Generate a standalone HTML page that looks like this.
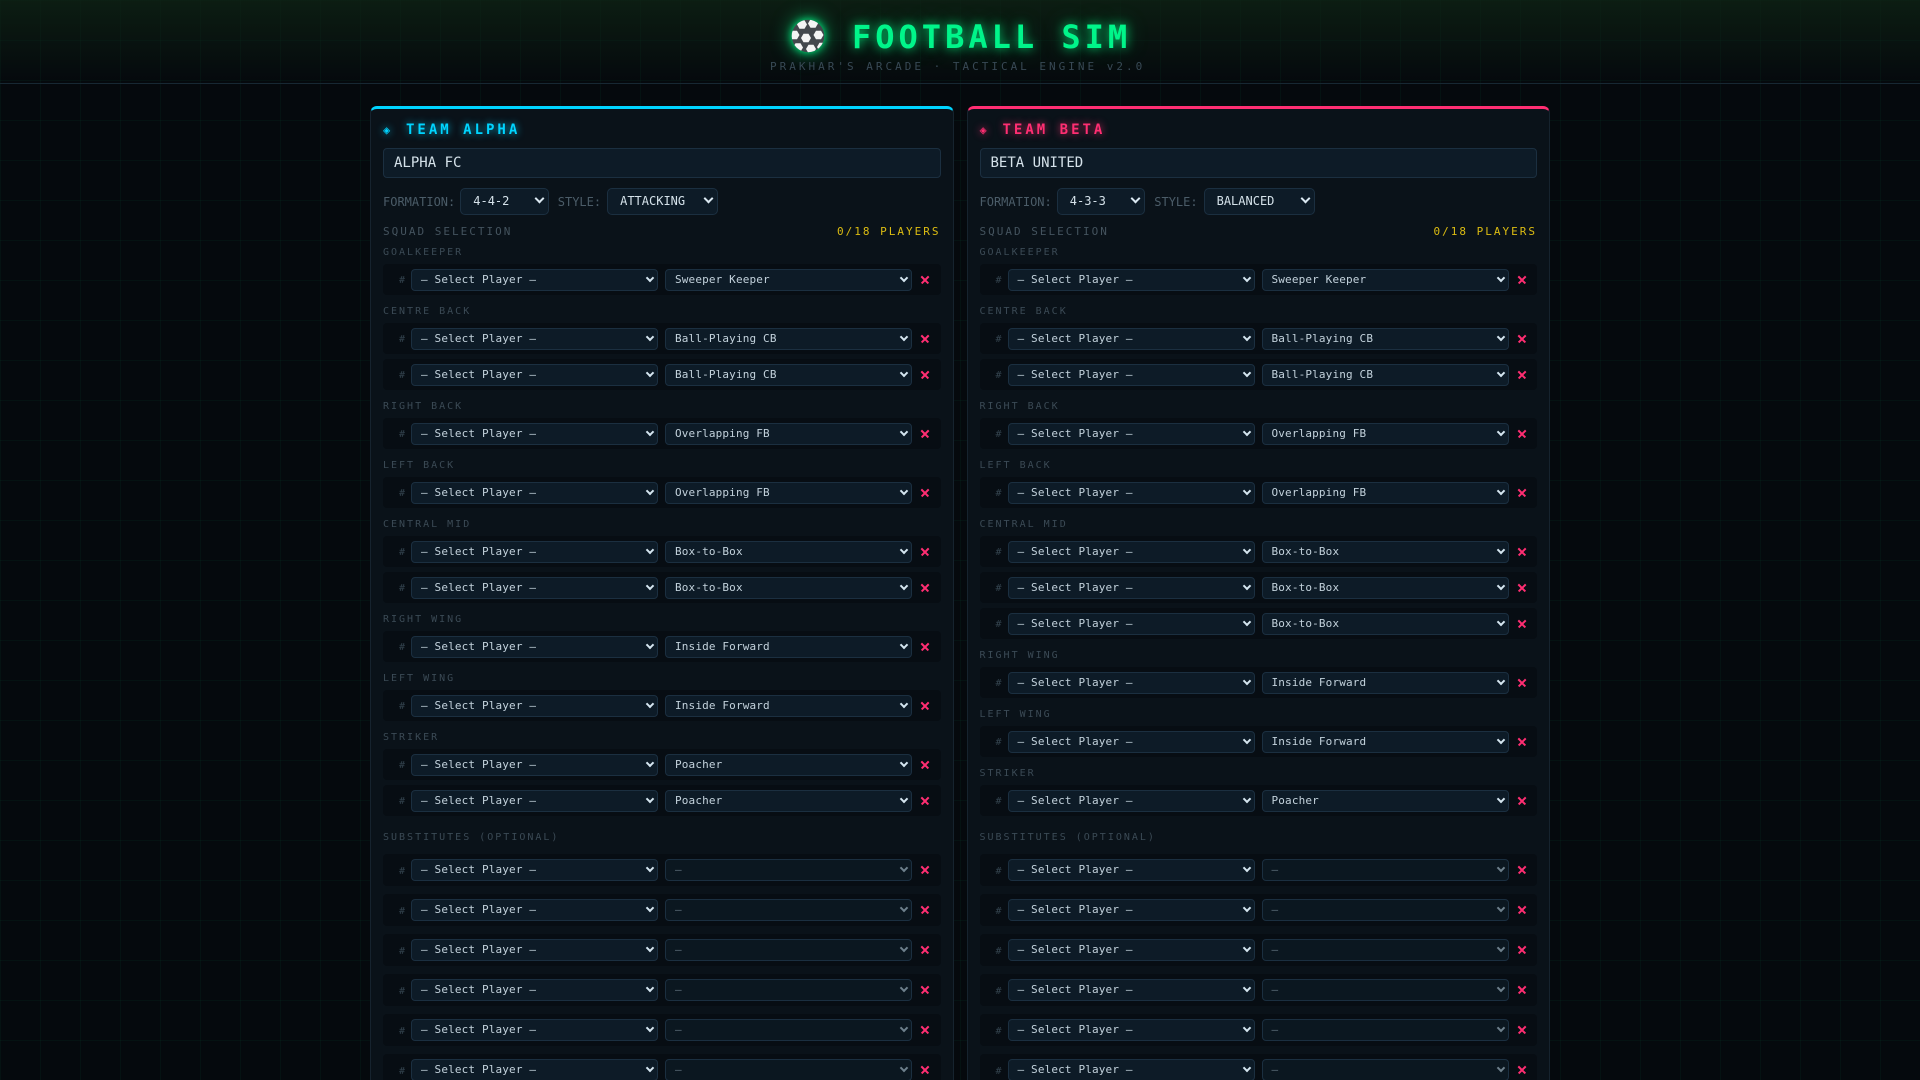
<!DOCTYPE html>
<html>
<head>
<meta charset="utf-8">
<style>
*{box-sizing:border-box;margin:0;padding:0}
html,body{width:1920px;height:1080px;overflow:hidden}
body{position:relative;background-color:#05090d;
background-image:linear-gradient(rgba(0,255,136,0.035) 1px,transparent 1px),linear-gradient(90deg,rgba(0,255,136,0.035) 1px,transparent 1px);
background-size:40px 40px;font-family:"DejaVu Sans Mono","Liberation Mono",monospace}
.hdr{position:absolute;left:0;top:0;width:1920px;height:84px;background:linear-gradient(180deg,rgba(14,36,20,0.75) 0%,rgba(5,9,13,0) 100%);border-bottom:1px solid #172833}
.ball{position:absolute;left:791px;top:19px;filter:drop-shadow(0 0 4px rgba(0,255,136,.9)) drop-shadow(0 0 9px rgba(0,255,136,.6))}
.ttl{position:absolute;left:852px;top:17px;font-size:32px;line-height:40px;font-weight:bold;letter-spacing:4px;color:#00f58a;white-space:nowrap;text-shadow:0 0 10px rgba(0,255,136,.75),0 0 22px rgba(0,255,136,.35)}
.sub{position:absolute;left:770px;top:60px;font-size:11px;line-height:14px;letter-spacing:3px;color:#384955;white-space:nowrap}
.wrap{position:absolute;left:370px;top:106px;width:1180px;display:flex;gap:13px}
.p{flex:1;height:1000px;background:#0a1219;border:1px solid #16232e;border-top:3px solid #00d4ff;border-radius:7px 7px 0 0;padding:11px 12px 0}
.p.b{border-top-color:#ff2e72}
.tt{height:20px;line-height:20px;font-size:14px;font-weight:bold;letter-spacing:3px;color:#00d4ff;text-shadow:0 0 8px rgba(0,212,255,.8);white-space:nowrap}
.b .tt{color:#ff2e72;text-shadow:0 0 8px rgba(255,46,114,.8)}
.ic{display:inline-block;width:23px;font-size:12px;letter-spacing:0}
.in{margin-top:8px;height:30px;background:#0d1b27;border:1px solid #1b2f40;border-radius:4px;padding-left:10px;font-size:14px;line-height:28px;color:#d5e2ea}
.fr{margin-top:10px;height:27px;display:flex;align-items:center;font-size:12px;color:#4b5c68;white-space:nowrap}
.fs{height:27px;border:1px solid #1b2f40;border-radius:5px;background:#0d1b27;color:#d5e2ea;padding-left:12px;line-height:25px;position:relative;font-size:12px}
.fs::after{content:"";position:absolute;right:5px;top:6px;width:5px;height:5px;border-right:2px solid #dbe9f2;border-bottom:2px solid #dbe9f2;transform:rotate(45deg)}
.f1{width:88.5px;margin-left:5px;margin-right:9px}
.f2{width:111px;margin-left:6px}
.sh{margin-top:10px;height:14px;line-height:14px;display:flex;justify-content:space-between;font-size:11px;letter-spacing:2px;color:#44535e;white-space:nowrap}
.sh .cnt{color:#dcbc12}
.gs{margin-top:8px}
.g{padding-bottom:6px}
.gl{height:12px;line-height:12px;font-size:10px;letter-spacing:2px;color:#3b4a55;margin-bottom:5px;white-space:nowrap}
.r{height:31px;margin-bottom:5px;background:#070d13;border-radius:4px;display:flex;align-items:center;padding-left:8px}
.n{width:14px;text-align:right;font-size:10px;color:#33434e;margin-right:6px;position:relative;top:1px}
.s{width:247px;height:22px;border:1px solid #1b2f40;border-radius:4px;background:#0d1b27;font-size:11px;line-height:20px;padding-left:9px;color:#c3d2dc;position:relative;letter-spacing:.15px;white-space:nowrap}
.s+.s{margin-left:7px}
.s::after{content:"";position:absolute;right:4px;top:5px;width:4px;height:4px;border-right:2px solid #d5e6f0;border-bottom:2px solid #d5e6f0;transform:rotate(45deg)}
.s.e{background:#0b1720;color:#5d6e7a}
.s.e::after{border-color:#6e808c}
.x{width:10px;height:10px;margin-left:8px;position:relative}
.x::before,.x::after{content:"";position:absolute;left:0;top:4.2px;width:10px;height:1.5px;background:#ff2e72;transform:rotate(45deg)}
.x::after{transform:rotate(-45deg)}
.sl{margin-top:5px;margin-bottom:10px}
.sr{height:32px;margin-bottom:8px}
</style>
</head>
<body>
<div class="hdr"></div>
<svg class="ball" width="34" height="34" viewBox="0 0 34 34">
<defs><clipPath id="bc"><circle cx="17" cy="17" r="16.3"/></clipPath></defs>
<circle cx="17" cy="17" r="16.3" fill="#43474c"/>
<g clip-path="url(#bc)" fill="#f4f4f4">
<polygon points="16,5.5 13.5,9.8 8.5,9.8 6,5.5 8.5,1.2 13.5,1.2"/>
<polygon points="27,4.5 24.5,8.8 19.5,8.8 17,4.5 19.5,0.2 24.5,0.2"/>
<polygon points="8.5,16 6,20.3 1,20.3 -1.5,16 1,11.7 6,11.7"/>
<polygon points="20,19 17.5,23.3 12.5,23.3 10,19 12.5,14.7 17.5,14.7"/>
<polygon points="32.5,16 30,20.3 25,20.3 22.5,16 25,11.7 30,11.7"/>
<polygon points="25,30 22.5,34.3 17.5,34.3 15,30 17.5,25.7 22.5,25.7"/>
<polygon points="12,28.5 9.5,32.8 4.5,32.8 2,28.5 4.5,24.2 9.5,24.2"/>
<polygon points="36,28 33.5,32.3 28.5,32.3 26,28 28.5,23.7 33.5,23.7"/>
</g>
</svg>
<div class="ttl">FOOTBALL SIM</div>
<div class="sub">PRAKHAR'S ARCADE · TACTICAL ENGINE v2.0</div>

<div class="wrap">
<div class="p">
<div class="tt"><span class="ic">◈</span>TEAM ALPHA</div>
<div class="in">ALPHA FC</div>
<div class="fr">FORMATION:<div class="fs f1">4-4-2</div>STYLE:<div class="fs f2">ATTACKING</div></div>
<div class="sh"><span>SQUAD SELECTION</span><span class="cnt">0/18 PLAYERS</span></div>
<div class="gs">
<div class="g"><div class="gl">GOALKEEPER</div>
<div class="r"><span class="n">#</span><div class="s">— Select Player —</div><div class="s">Sweeper Keeper</div><div class="x"></div></div>
</div>
<div class="g"><div class="gl">CENTRE BACK</div>
<div class="r"><span class="n">#</span><div class="s">— Select Player —</div><div class="s">Ball-Playing CB</div><div class="x"></div></div>
<div class="r"><span class="n">#</span><div class="s">— Select Player —</div><div class="s">Ball-Playing CB</div><div class="x"></div></div>
</div>
<div class="g"><div class="gl">RIGHT BACK</div>
<div class="r"><span class="n">#</span><div class="s">— Select Player —</div><div class="s">Overlapping FB</div><div class="x"></div></div>
</div>
<div class="g"><div class="gl">LEFT BACK</div>
<div class="r"><span class="n">#</span><div class="s">— Select Player —</div><div class="s">Overlapping FB</div><div class="x"></div></div>
</div>
<div class="g"><div class="gl">CENTRAL MID</div>
<div class="r"><span class="n">#</span><div class="s">— Select Player —</div><div class="s">Box-to-Box</div><div class="x"></div></div>
<div class="r"><span class="n">#</span><div class="s">— Select Player —</div><div class="s">Box-to-Box</div><div class="x"></div></div>
</div>
<div class="g"><div class="gl">RIGHT WING</div>
<div class="r"><span class="n">#</span><div class="s">— Select Player —</div><div class="s">Inside Forward</div><div class="x"></div></div>
</div>
<div class="g"><div class="gl">LEFT WING</div>
<div class="r"><span class="n">#</span><div class="s">— Select Player —</div><div class="s">Inside Forward</div><div class="x"></div></div>
</div>
<div class="g"><div class="gl">STRIKER</div>
<div class="r"><span class="n">#</span><div class="s">— Select Player —</div><div class="s">Poacher</div><div class="x"></div></div>
<div class="r"><span class="n">#</span><div class="s">— Select Player —</div><div class="s">Poacher</div><div class="x"></div></div>
</div>
</div>
<div class="gl sl">SUBSTITUTES (OPTIONAL)</div>
<div class="r sr"><span class="n">#</span><div class="s">— Select Player —</div><div class="s e">—</div><div class="x"></div></div>
<div class="r sr"><span class="n">#</span><div class="s">— Select Player —</div><div class="s e">—</div><div class="x"></div></div>
<div class="r sr"><span class="n">#</span><div class="s">— Select Player —</div><div class="s e">—</div><div class="x"></div></div>
<div class="r sr"><span class="n">#</span><div class="s">— Select Player —</div><div class="s e">—</div><div class="x"></div></div>
<div class="r sr"><span class="n">#</span><div class="s">— Select Player —</div><div class="s e">—</div><div class="x"></div></div>
<div class="r sr"><span class="n">#</span><div class="s">— Select Player —</div><div class="s e">—</div><div class="x"></div></div>
<div class="r sr"><span class="n">#</span><div class="s">— Select Player —</div><div class="s e">—</div><div class="x"></div></div>
</div>

<div class="p b">
<div class="tt"><span class="ic">◈</span>TEAM BETA</div>
<div class="in">BETA UNITED</div>
<div class="fr">FORMATION:<div class="fs f1">4-3-3</div>STYLE:<div class="fs f2">BALANCED</div></div>
<div class="sh"><span>SQUAD SELECTION</span><span class="cnt">0/18 PLAYERS</span></div>
<div class="gs">
<div class="g"><div class="gl">GOALKEEPER</div>
<div class="r"><span class="n">#</span><div class="s">— Select Player —</div><div class="s">Sweeper Keeper</div><div class="x"></div></div>
</div>
<div class="g"><div class="gl">CENTRE BACK</div>
<div class="r"><span class="n">#</span><div class="s">— Select Player —</div><div class="s">Ball-Playing CB</div><div class="x"></div></div>
<div class="r"><span class="n">#</span><div class="s">— Select Player —</div><div class="s">Ball-Playing CB</div><div class="x"></div></div>
</div>
<div class="g"><div class="gl">RIGHT BACK</div>
<div class="r"><span class="n">#</span><div class="s">— Select Player —</div><div class="s">Overlapping FB</div><div class="x"></div></div>
</div>
<div class="g"><div class="gl">LEFT BACK</div>
<div class="r"><span class="n">#</span><div class="s">— Select Player —</div><div class="s">Overlapping FB</div><div class="x"></div></div>
</div>
<div class="g"><div class="gl">CENTRAL MID</div>
<div class="r"><span class="n">#</span><div class="s">— Select Player —</div><div class="s">Box-to-Box</div><div class="x"></div></div>
<div class="r"><span class="n">#</span><div class="s">— Select Player —</div><div class="s">Box-to-Box</div><div class="x"></div></div>
<div class="r"><span class="n">#</span><div class="s">— Select Player —</div><div class="s">Box-to-Box</div><div class="x"></div></div>
</div>
<div class="g"><div class="gl">RIGHT WING</div>
<div class="r"><span class="n">#</span><div class="s">— Select Player —</div><div class="s">Inside Forward</div><div class="x"></div></div>
</div>
<div class="g"><div class="gl">LEFT WING</div>
<div class="r"><span class="n">#</span><div class="s">— Select Player —</div><div class="s">Inside Forward</div><div class="x"></div></div>
</div>
<div class="g"><div class="gl">STRIKER</div>
<div class="r"><span class="n">#</span><div class="s">— Select Player —</div><div class="s">Poacher</div><div class="x"></div></div>
</div>
</div>
<div class="gl sl">SUBSTITUTES (OPTIONAL)</div>
<div class="r sr"><span class="n">#</span><div class="s">— Select Player —</div><div class="s e">—</div><div class="x"></div></div>
<div class="r sr"><span class="n">#</span><div class="s">— Select Player —</div><div class="s e">—</div><div class="x"></div></div>
<div class="r sr"><span class="n">#</span><div class="s">— Select Player —</div><div class="s e">—</div><div class="x"></div></div>
<div class="r sr"><span class="n">#</span><div class="s">— Select Player —</div><div class="s e">—</div><div class="x"></div></div>
<div class="r sr"><span class="n">#</span><div class="s">— Select Player —</div><div class="s e">—</div><div class="x"></div></div>
<div class="r sr"><span class="n">#</span><div class="s">— Select Player —</div><div class="s e">—</div><div class="x"></div></div>
<div class="r sr"><span class="n">#</span><div class="s">— Select Player —</div><div class="s e">—</div><div class="x"></div></div>
</div>
</div>
</body>
</html>
